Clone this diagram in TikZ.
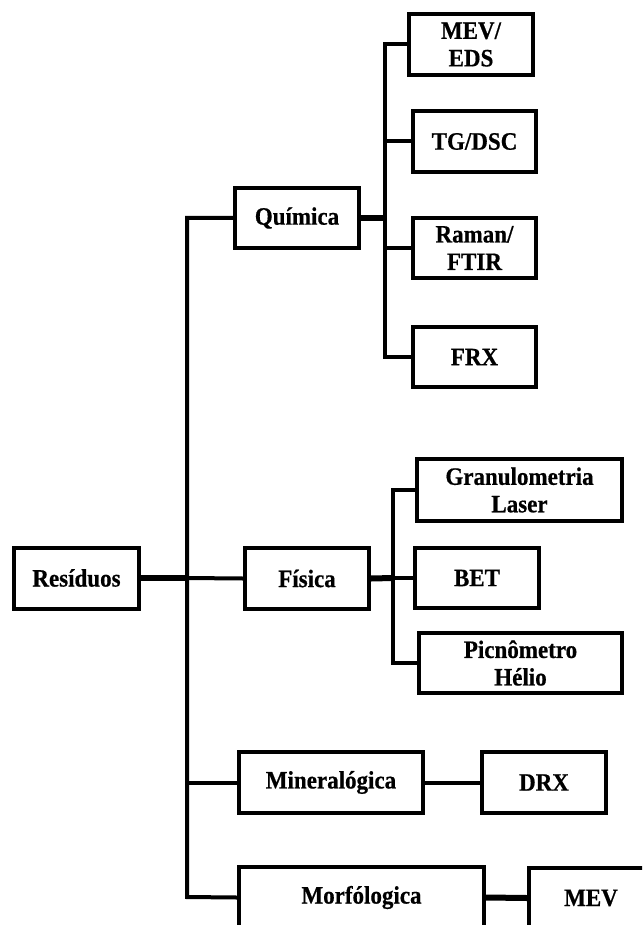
\documentclass[tikz,border=0pt]{standalone}
\usepackage{fontspec}
\setmainfont{Liberation Serif}[FakeStretch=0.92,BoldFeatures={FakeBold=0.6}]
\begin{document}
\begin{tikzpicture}[x=1pt,y=-1pt,
  box/.style={draw=black,line width=4pt,fill=white,inner sep=0pt,minimum height=61pt,
    align=center,font=\fontsize{25}{27.5}\selectfont\bfseries},
  conn/.style={line width=4pt,line cap=rect},
  thick conn/.style={line width=6pt}]
\useasboundingbox (0,0) rectangle (642,925);
\clip (0,0) rectangle (642,925);
% connector coordinates
\coordinate (mt) at (187,218);
\coordinate (mb) at (187,897);
\coordinate (mj) at (187,578);
\coordinate (qj) at (385,218);
\coordinate (qt) at (385,44);
\coordinate (qb) at (385,357);
\coordinate (fj) at (393,578);
\coordinate (ft) at (393,490);
\coordinate (fb) at (393,663);
% boxes
\node[box,minimum width=125pt] (res) at (76.5,578) {Resíduos};
\node[box,minimum width=124pt,minimum height=60pt] (qui) at (297,218) {Química};
\node[box,minimum width=124pt] (fis) at (307,578.5) {Física};
\node[box,minimum width=184pt] (min) at (331,782.5) {Mineralógica};
\node[box,minimum width=245pt] (mor) at (361.5,897.5) {Morfólogica};
\node[box,minimum width=124pt] (mev) at (591,898) {MEV};
\node[box,minimum width=124pt] (mevEDS) at (471,44.5) {MEV/\\EDS};
\node[box,minimum width=123pt] (tg) at (474.5,141.5) {TG/DSC};
\node[box,minimum width=123pt,minimum height=60pt] (raman) at (474.5,248) {Raman/\\FTIR};
\node[box,minimum width=123pt,minimum height=60pt] (frx) at (474.5,357) {FRX};
\node[box,minimum width=205pt,minimum height=62pt] (gran) at (519.5,490) {Granulometria\\Laser};
\node[box,minimum width=124pt,minimum height=60pt] (bet) at (477,578) {BET};
\node[box,minimum width=203pt,minimum height=60pt] (pic) at (520.5,663) {Picnômetro\\Hélio};
\node[box,minimum width=124pt] (drx) at (544,782.5) {DRX};
% main tree
\draw[conn] (qui.west) -- (mt) -- (mb) -- (mor.west);
\draw[thick conn] (res.east) -- (mj);
\draw[conn] (mj) -- (fis.west);
\draw[conn] (mj |- min.west) -- (min.west);
% Química branch
\draw[thick conn] (qui.east) -- (qj);
\draw[conn] (qt) -- (qb);
\draw[conn] (qt) -- (qt -| mevEDS.west);
\draw[conn] (qj |- tg.west) -- (tg.west);
\draw[conn] (qj |- raman.west) -- (raman.west);
\draw[conn] (qb) -- (qb -| frx.west);
% Física branch
\draw[thick conn] (fis.east) -- (fj);
\draw[conn] (fj) -- (bet.west);
\draw[conn] (ft) -- (fb);
\draw[conn] (ft) -- (ft -| gran.west);
\draw[conn] (fb) -- (fb -| pic.west);
% single children
\draw[conn] (min.east) -- (drx.west);
\draw[thick conn] (mor.east) -- (mev.west);
\end{tikzpicture}
\end{document}
